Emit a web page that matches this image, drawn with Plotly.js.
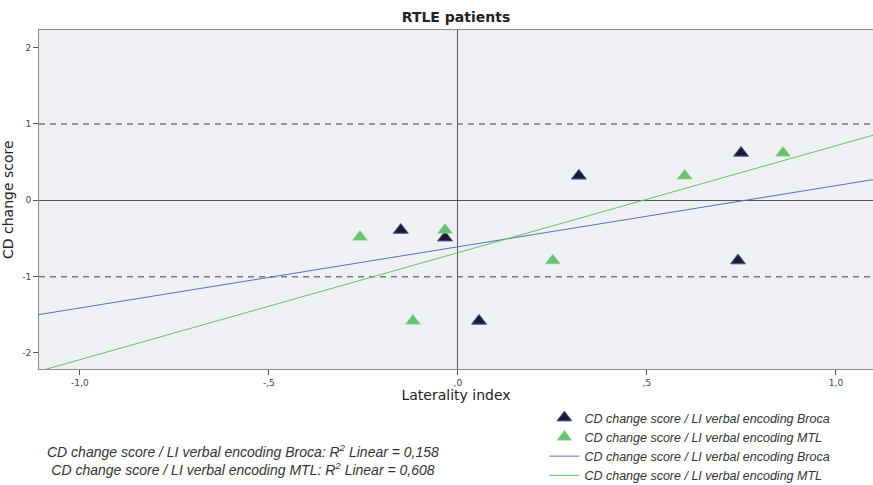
<!DOCTYPE html>
<html><head><meta charset="utf-8">
<script src="https://cdn.plot.ly/plotly-3.0.1.min.js"></script>
<style>html,body{margin:0;padding:0;background:#fff}#chart{width:873px;height:485px}</style>
</head><body><div id="chart"></div>
<script>
// Data
const brocaLI = [-0.151, -0.034, 0.056, 0.320, 0.749, 0.741];
const brocaCD = [-0.39, -0.49, -1.58, 0.32, 0.62, -0.79];
const mtlLI = [-0.259, -0.034, -0.119, 0.251, 0.600, 0.860];
const mtlCD = [-0.48, -0.39, -1.58, -0.79, 0.32, 0.62];
const xTickVals = [-1, -0.5, 0, 0.5, 1];
const xTickText = ['-1,0', '-,5', ',0', ',5', '1,0'];
const yTickVals = [-2, -1, 0, 1, 2];
const yTickText = ['-2', '-1', '0', '1', '2'];
const refLines = [-1, 1];
const xRange = [-1.108, 1.098];
const yRange = [-2.215, 2.23];
const seriesNames = ['CD change score / LI verbal encoding Broca', 'CD change score / LI verbal encoding MTL'];
const r2Text = ['0,158', '0,608'];

function fit(x, y) {
  const n = x.length;
  const mx = x.reduce((a, b) => a + b, 0) / n;
  const my = y.reduce((a, b) => a + b, 0) / n;
  let sxy = 0, sxx = 0;
  for (let i = 0; i < n; i++) { sxy += (x[i] - mx) * (y[i] - my); sxx += (x[i] - mx) ** 2; }
  const b = sxy / sxx, a = my - b * mx;
  return { x: xRange.slice(), y: xRange.map(v => a + b * v) };
}
const fB = fit(brocaLI, brocaCD), fM = fit(mtlLI, mtlCD);

const navy = '#1b1c33', green = '#6bc06f', blueLine = '#5b6fb5', greenLine = '#5fc466';

const traces = [
  { x: brocaLI, y: brocaCD, mode: 'markers', type: 'scatter', name: seriesNames[0],
    marker: { symbol: 'triangle-up', size: 13, color: navy, line: { color: '#4a5a9a', width: 1 } } },
  { x: mtlLI, y: mtlCD, mode: 'markers', type: 'scatter', name: seriesNames[1],
    marker: { symbol: 'triangle-up', size: 13, color: green, line: { color: '#8fd492', width: 0.5 } } },
  { x: fB.x, y: fB.y, mode: 'lines', type: 'scatter', name: seriesNames[0],
    line: { color: blueLine, width: 1 } },
  { x: fM.x, y: fM.y, mode: 'lines', type: 'scatter', name: seriesNames[1],
    line: { color: greenLine, width: 1 } }
];

const layout = {
  width: 873, height: 485,
  margin: { l: 39, r: 0, t: 30, b: 112 },
  paper_bgcolor: '#ffffff', plot_bgcolor: '#eff0f3',
  font: { family: 'DejaVu Sans, Verdana, sans-serif', color: '#222' },
  title: { text: '<b>RTLE patients</b>', font: { size: 14, family: 'DejaVu Sans', color: '#222' },
    xref: 'paper', x: 0.5, xanchor: 'center', yref: 'container', y: 1 - 17 / 485, yanchor: 'middle' },
  xaxis: { range: xRange, tickvals: xTickVals, ticktext: xTickText, ticks: 'outside', ticklen: 5,
    tickcolor: '#555', tickfont: { size: 9, color: '#444' }, showgrid: false, automargin: true,
    zeroline: true, zerolinecolor: '#555', zerolinewidth: 1,
    showline: true, linecolor: '#8a8a8a', linewidth: 1, mirror: true,
    title: { text: 'Laterality index', font: { size: 14, color: '#222' }, standoff: 5 } },
  yaxis: { range: yRange, tickvals: yTickVals, ticktext: yTickText, ticks: 'outside', ticklen: 5,
    tickcolor: '#555', tickfont: { size: 9, color: '#444' }, showgrid: false, automargin: false,
    zeroline: true, zerolinecolor: '#555', zerolinewidth: 1,
    showline: true, linecolor: '#8a8a8a', linewidth: 1, mirror: true,
    title: { text: 'CD change score', font: { size: 14, color: '#222' }, standoff: 8 } },
  shapes: refLines.map(v => ({ type: 'line', xref: 'paper', x0: 0, x1: 1, yref: 'y', y0: v, y1: v,
    line: { color: '#7a7a7a', width: 1.5, dash: '6px,5px' }, layer: 'below' })),
  legend: { x: 0.606, xanchor: 'left', xref: 'paper', yref: 'container', y: 1 - 403 / 485, yanchor: 'top',
    bgcolor: 'rgba(0,0,0,0)',
    font: { family: 'Liberation Sans, Arial, sans-serif', size: 12.5, color: '#333', style: 'italic' },
    tracegroupgap: 0, itemwidth: 30 },
  showlegend: true,
  annotations: [{
    xref: 'paper', yref: 'paper', x: 0.245, y: (373 - 465) / 343, xanchor: 'center', yanchor: 'middle', showarrow: false,
    align: 'center',
    font: { family: 'Liberation Sans, Arial, sans-serif', size: 14, color: '#333', style: 'italic' },
    text: seriesNames[0] + ': R<sup>2</sup> Linear = ' + r2Text[0] + '<br>' + seriesNames[1] + ': R<sup>2</sup> Linear = ' + r2Text[1]
  }]
};
Plotly.newPlot('chart', traces, layout, { displayModeBar: false, staticPlot: true });
</script></body></html>
